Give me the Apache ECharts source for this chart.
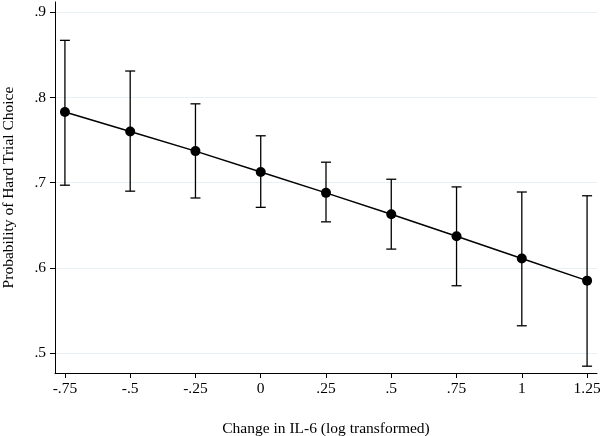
<!DOCTYPE html>
<html><head><meta charset="utf-8">
<script src="https://cdn.jsdelivr.net/npm/echarts@6/dist/echarts.min.js"></script>
<style>html,body{margin:0;padding:0;background:#fff}#c{width:600px;height:436px}</style>
</head><body><div id="c"></div>
<script>
var xValues = [-0.75, -0.5, -0.25, 0, 0.25, 0.5, 0.75, 1, 1.25];
var estimates = [0.783, 0.760, 0.737, 0.7125, 0.688, 0.663, 0.637, 0.611, 0.585];
var upperCI = [0.867, 0.831, 0.7925, 0.755, 0.724, 0.704, 0.695, 0.689, 0.6846];
var lowerCI = [0.697, 0.690, 0.682, 0.671, 0.654, 0.622, 0.579, 0.532, 0.4846];
var xTicks = [-0.75, -0.5, -0.25, 0, 0.25, 0.5, 0.75, 1, 1.25];
var yTicks = [0.5, 0.6, 0.7, 0.8, 0.9];

function fmt(v){
  var s = String(Math.round(v*100)/100);
  return s.replace(/^0\./, '.').replace(/^-0\./, '-.');
}
var font = 'Liberation Serif';
var chart = echarts.init(document.getElementById('c'), null, {renderer:'canvas'});
var lineData = xValues.map(function(x,i){return [x, estimates[i]];});
var errData = xValues.map(function(x,i){return [x, lowerCI[i], upperCI[i]];});

chart.setOption({
  animation:false,
  backgroundColor:'#fff',
  grid:{left:55, right:3, top:2, bottom:63, containLabel:false, outerBoundsMode:'none'},
  xAxis:{
    type:'value', min:-0.788, max:1.288,
    name:'Change in IL-6 (log transformed)', nameLocation:'middle', nameGap:48,
    nameTextStyle:{fontFamily:font, fontSize:15.5, color:'#000'},
    axisLine:{show:true, onZero:false, lineStyle:{color:'#000', width:1}},
    axisTick:{show:true, length:5, lineStyle:{color:'#000'}, customValues:xTicks},
    axisLabel:{fontFamily:font, fontSize:15.5, color:'#000', margin:8, customValues:xTicks, formatter:fmt},
    splitLine:{show:false}
  },
  yAxis:{
    type:'value', min:0.4766, max:0.912,
    name:'Probability of Hard Trial Choice', nameLocation:'middle', nameGap:38,
    nameTextStyle:{fontFamily:font, fontSize:15.5, color:'#000'},
    axisLine:{show:true, onZero:false, lineStyle:{color:'#000', width:1}},
    axisTick:{show:true, length:5, lineStyle:{color:'#000'}, customValues:yTicks},
    axisLabel:{fontFamily:font, fontSize:15.5, color:'#000', margin:9, customValues:yTicks, formatter:fmt},
    splitLine:{show:false}
  },
  series:[
    {
      type:'line', data:[], silent:true, z:0,
      markLine:{
        silent:true, symbol:'none', label:{show:false}, z:0,
        lineStyle:{color:'#e8f0f3', width:1, type:'solid'},
        data: yTicks.map(function(v){return {yAxis:v};})
      }
    },
    {
      type:'custom',
      data: errData,
      renderItem:function(params, api){
        var x = api.value(0);
        var lo = api.coord([x, api.value(1)]);
        var hi = api.coord([x, api.value(2)]);
        var cw = 5;
        var st = {stroke:'#000', lineWidth:1.3};
        return {type:'group', children:[
          {type:'line', shape:{x1:lo[0], y1:lo[1], x2:hi[0], y2:hi[1]}, style:st},
          {type:'line', shape:{x1:lo[0]-cw, y1:lo[1], x2:lo[0]+cw, y2:lo[1]}, style:st},
          {type:'line', shape:{x1:hi[0]-cw, y1:hi[1], x2:hi[0]+cw, y2:hi[1]}, style:st}
        ]};
      },
      z:2
    },
    {
      type:'line', data:lineData,
      symbol:'circle', symbolSize:10,
      lineStyle:{color:'#000', width:1.5},
      itemStyle:{color:'#000'},
      z:3
    }
  ]
});
</script>
</body></html>
